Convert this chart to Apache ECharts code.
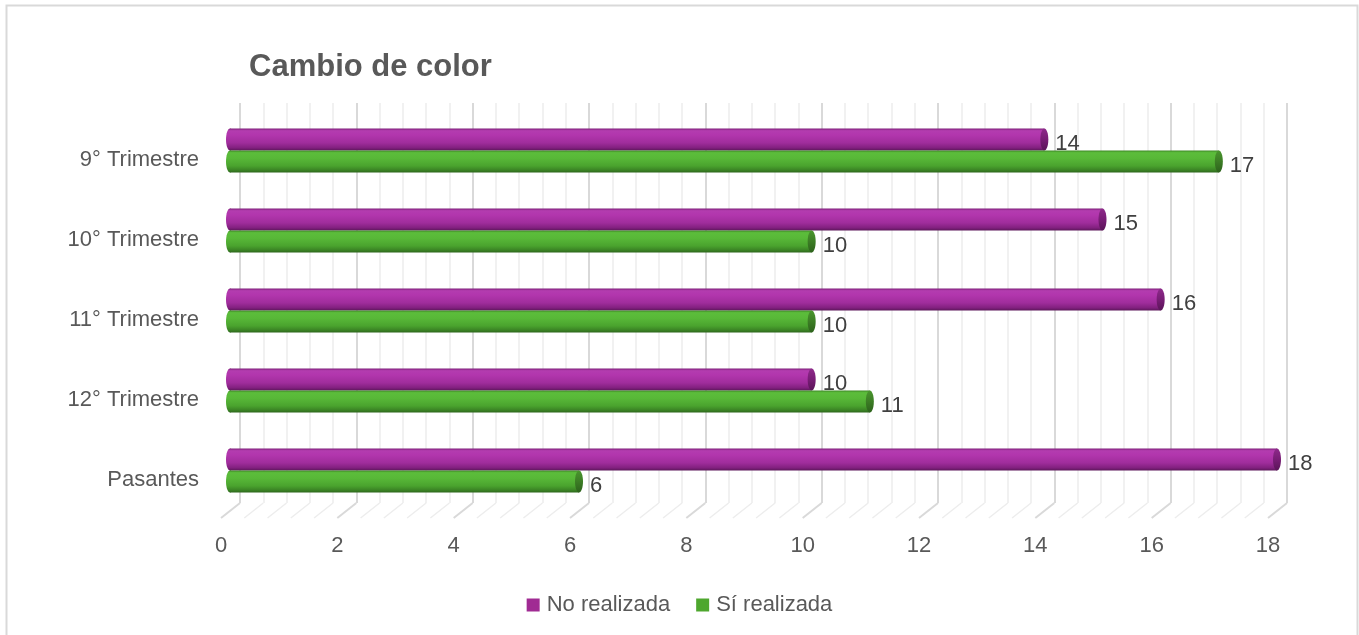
<!DOCTYPE html>
<html>
<head>
<meta charset="utf-8">
<script src="https://cdn.jsdelivr.net/npm/echarts@6/dist/echarts.min.js"></script>
<style>
  html, body { margin: 0; padding: 0; background: #ffffff; }
  #chart { width: 1359px; height: 635px; }
</style>
</head>
<body>
<div id="chart"></div>
<script>
// Categories, top to bottom
const categories = ['9° Trimestre', '10° Trimestre', '11° Trimestre', '12° Trimestre', 'Pasantes'];
// Series values
const noRealizada = [14, 15, 16, 10, 18];
const siRealizada = [17, 10, 10, 11, 6];
const seriesNames = ['No realizada', 'Sí realizada'];
// Value axis range
const axisMin = 0;
const axisMax = 18;
const axisStep = 2;

const FONT = '"Liberation Sans", Arial, sans-serif';
const TEXT = '#595959';
const FS = 22;

// depth offset between back wall and front edge of the floor
const DEPTH_DX = -19;
const DEPTH_DY = 15;

const purple = {
  base: '#a02b93',
  body: [
    [0, '#7e2179'], [0.1, '#b33caf'], [0.3, '#b236ad'], [0.65, '#a02d9c'],
    [0.88, '#82207f'], [1, '#5c165a']
  ],
  cap: [[0, '#8e2a8a'], [0.5, '#781d75'], [1, '#5a1558']]
};
const green = {
  base: '#4ea72e',
  body: [
    [0, '#3e8a26'], [0.1, '#5cbd3b'], [0.35, '#58b838'], [0.7, '#4aa32e'],
    [0.9, '#3a8224'], [1, '#2d661c']
  ],
  cap: [[0, '#4a962e'], [0.5, '#3c7d25'], [1, '#2d621c']]
};

function grad(stops) {
  return new echarts.graphic.LinearGradient(0, 0, 0, 1,
    stops.map(s => ({ offset: s[0], color: s[1] })));
}

// one cylinder per data item; upper = first series of the pair
function cylinder(pal, upper) {
  return function (params, api) {
    const v = api.value(0);
    const cat = api.value(1);
    const p0 = api.coord([axisMin, cat]);
    const p1 = api.coord([v, cat]);
    const band = api.size([0, 1])[1];
    const h = band * 0.275;
    const yTop = upper ? p0[1] - h : p0[1];
    const yc = yTop + h / 2;
    const rx = 4;
    return {
      type: 'group',
      children: [
        { type: 'ellipse', shape: { cx: p0[0], cy: yc, rx: rx, ry: h / 2 },
          style: { fill: grad(pal.body) } },
        { type: 'rect', shape: { x: p0[0], y: yTop, width: p1[0] - p0[0], height: h },
          style: { fill: grad(pal.body) } },
        { type: 'ellipse', shape: { cx: p1[0], cy: yc, rx: rx, ry: h / 2 },
          style: { fill: grad(pal.cap) } },
        { type: 'text', style: {
            text: String(v), x: p1[0] + rx + 7, y: yc + 4,
            fill: '#404040', font: FS + 'px ' + FONT, verticalAlign: 'middle', align: 'left'
          } }
      ]
    };
  };
}

// floor: diagonal lines from the foot of each wall gridline toward the viewer
function floorLines(params, api) {
  const children = [];
  const minorStep = axisStep / 5;
  const n = Math.round((axisMax - axisMin) / minorStep);
  for (let i = 0; i <= n; i++) {
    const v = axisMin + i * minorStep;
    const p = api.coord([v, 0]);
    const major = i % 5 === 0;
    children.push({
      type: 'line',
      shape: { x1: p[0], y1: p[1], x2: p[0] + DEPTH_DX, y2: p[1] + DEPTH_DY },
      style: { stroke: major ? '#d9d9d9' : '#ededed', lineWidth: major ? 2 : 1.5 }
    });
  }
  return { type: 'group', children: children };
}

const chart = echarts.init(document.getElementById('chart'), null, { renderer: 'canvas' });

chart.setOption({
  animation: false,
  backgroundColor: '#ffffff',
  title: {
    text: 'Cambio de color',
    left: 244, top: 47,
    textStyle: { fontFamily: FONT, fontSize: 31, fontWeight: 'bold', color: TEXT }
  },
  legend: {
    data: seriesNames,
    top: 589, left: 'center',
    icon: 'rect', itemWidth: 13, itemHeight: 13, itemGap: 26,
    textStyle: { fontFamily: FONT, fontSize: FS, color: TEXT, padding: [0, 0, 0, 2] }
  },
  graphic: [{
    type: 'rect', silent: true, z: -10,
    shape: { x: 6.5, y: 5.5, width: 1351, height: 640 },
    style: { fill: null, stroke: '#d9d9d9', lineWidth: 2 }
  }],
  grid: [
    { left: 240, top: 103, width: 1047, height: 400 },   // back wall
    { left: 230, top: 110.5, width: 1047, height: 400 }, // bars (mid depth)
    { left: 221, top: 120, width: 1047, height: 400 }    // front edge labels
  ],
  xAxis: [
    {
      gridIndex: 0, type: 'value', min: axisMin, max: axisMax, interval: axisStep,
      axisLine: { show: false }, axisTick: { show: false }, axisLabel: { show: false },
      splitLine: { show: true, lineStyle: { color: '#d9d9d9', width: 2 } },
      minorTick: { show: false, splitNumber: 5 },
      minorSplitLine: { show: true, lineStyle: { color: '#ededed', width: 1.5 } }
    },
    {
      gridIndex: 1, type: 'value', min: axisMin, max: axisMax, interval: axisStep,
      show: false
    },
    {
      gridIndex: 2, type: 'value', min: axisMin, max: axisMax, interval: axisStep,
      axisLine: { show: false }, axisTick: { show: false }, splitLine: { show: false },
      axisLabel: { fontFamily: FONT, fontSize: FS, color: TEXT, margin: 15 }
    }
  ],
  yAxis: [
    { gridIndex: 0, type: 'value', min: 0, max: 1, show: false },
    { gridIndex: 1, type: 'category', data: categories, inverse: true, show: false },
    {
      gridIndex: 2, type: 'category', data: categories, inverse: true,
      axisLine: { show: false }, axisTick: { show: false }, splitLine: { show: false },
      axisLabel: { fontFamily: FONT, fontSize: FS, color: TEXT, margin: 22 }
    }
  ],
  series: [
    {
      type: 'custom', xAxisIndex: 0, yAxisIndex: 0, silent: true, z: 1,
      renderItem: floorLines, data: [[0, 0]]
    },
    {
      name: seriesNames[0], type: 'custom', xAxisIndex: 1, yAxisIndex: 1, z: 3,
      itemStyle: { color: purple.base },
      renderItem: cylinder(purple, true),
      encode: { x: 0, y: 1 },
      data: noRealizada.map((v, i) => [v, i])
    },
    {
      name: seriesNames[1], type: 'custom', xAxisIndex: 1, yAxisIndex: 1, z: 3,
      itemStyle: { color: green.base },
      renderItem: cylinder(green, false),
      encode: { x: 0, y: 1 },
      data: siRealizada.map((v, i) => [v, i])
    }
  ]
});
</script>
</body>
</html>
